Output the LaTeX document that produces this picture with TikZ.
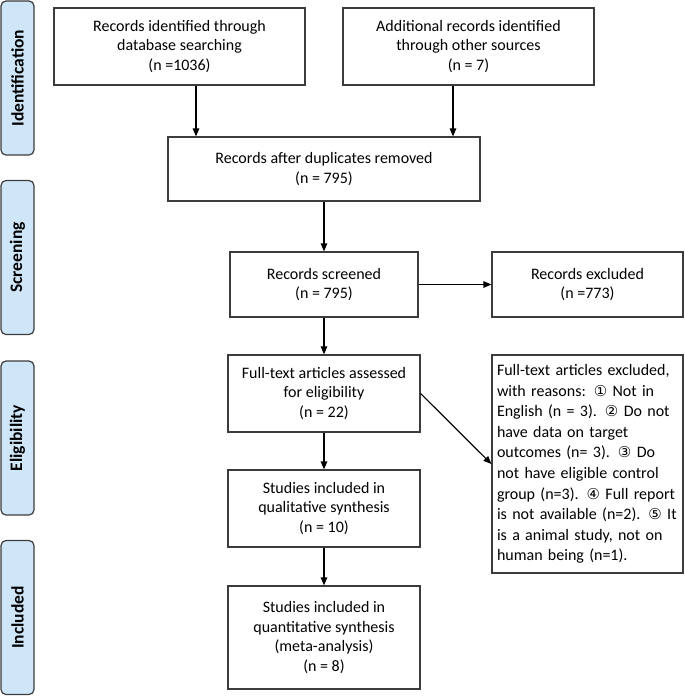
\documentclass[tikz,border=0pt]{standalone}
\usepackage{fontspec}
\setmainfont{Carlito}
\newfontfamily\circfont{DejaVu Sans}
\usetikzlibrary{arrows.meta}
\definecolor{phasefill}{RGB}{207,230,248}
\definecolor{boxline}{RGB}{60,60,60}
\newcommand{\circnum}[1]{{\circfont\fontsize{15}{15}\selectfont #1}}

\begin{document}
\begin{tikzpicture}[x=1pt,y=-1pt,
    box/.style={draw=boxline, line width=1.2pt, rectangle, align=center, inner sep=2pt,
                font=\fontsize{16}{19.5}\selectfont},
    phase/.style={draw=boxline, line width=1.2pt, rounded corners=5pt, fill=phasefill,
                  rotate=90, minimum width=154pt, minimum height=33pt, inner sep=0pt,
                  font=\fontsize{17.5}{20}\selectfont\bfseries},
    arr/.style={->, >={Triangle[length=8pt,width=6.5pt]}, line width=1.2pt}]
    \useasboundingbox (0,0) rectangle (685,697);

    % phase labels on the left
    \node[phase] (ident) at (17.5,78) {Identification};
    \node[phase] (screen) at (17.5,257.5) {Screening};
    \node[phase] (elig) at (17.5,438) {Eligibility};
    \node[phase] (incl) at (17.5,617.5) {Included};

    % flow boxes
    \node[box, minimum width=251pt, minimum height=77pt] (database) at (179.5,46.5) {Records identified through\\database searching\\(n =1036)};
    \node[box, minimum width=251pt, minimum height=77pt] (other) at (468.5,46.5) {Additional records identified\\through other sources\\(n = 7)};
    \node[box, minimum width=312pt, minimum height=64pt] (dupl) at (324,169) {Records after duplicates removed\\(n = 795)};
    \node[box, minimum width=188pt, minimum height=65pt] (screened) at (324,284.5) {Records screened\\(n = 795)};
    \node[box, minimum width=191pt, minimum height=65pt] (excluded) at (587.5,284.5) {Records excluded\\(n =773)};
    \node[box, minimum width=192pt, minimum height=77pt] (fulltext) at (324,393.5) {Full-text articles assessed\\for eligibility\\(n = 22)};
    \node[box, minimum width=191pt, minimum height=218pt, align=left, text width=181pt,
          font=\fontsize{16}{20.6}\selectfont] (reasons) at (587.5,464)
         {Full-text articles excluded,\\with reasons: \circnum{①} Not in\\English (n = 3). \circnum{②} Do not\\have data on target\\outcomes (n= 3). \circnum{③} Do\\not have eligible control\\group (n=3). \circnum{④} Full report\\is not available (n=2). \circnum{⑤} It\\is a animal study, not on\\human being (n=1).};
    \node[box, minimum width=192pt, minimum height=77pt] (qual) at (324,508.5) {Studies included in\\qualitative synthesis\\(n = 10)};
    \node[box, minimum width=192pt, minimum height=103pt] (quant) at (324,637.5) {Studies included in\\quantitative synthesis\\(meta-analysis)\\(n = 8)};

    % connectors
    \draw[arr] ([xshift=16.5pt]database.south) -- ([xshift=16.5pt]database.south |- dupl.north);
    \draw[arr] ([xshift=-15.5pt]other.south) -- ([xshift=-15.5pt]other.south |- dupl.north);
    \draw[arr] (dupl) -- (screened);
    \draw[arr] (screened) -- (excluded);
    \draw[arr] (screened) -- (fulltext);
    \draw[arr] (fulltext.east) -- (reasons.west);
    \draw[arr] (fulltext) -- (qual);
    \draw[arr] (qual) -- (quant);
\end{tikzpicture}
\end{document}
